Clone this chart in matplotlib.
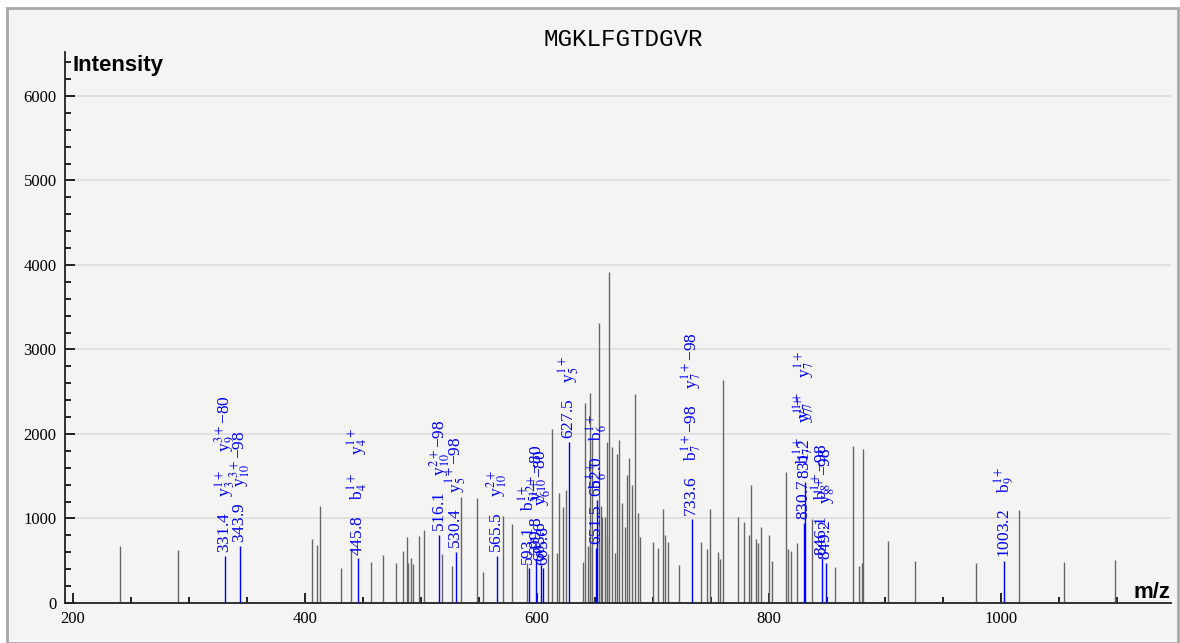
"""
Annotated MS/MS spectrum for MGKLFGTDGVR
"""

import matplotlib
matplotlib.use('Agg')
import matplotlib.pyplot as plt
from matplotlib.patches import Rectangle
from matplotlib.ticker import MultipleLocator

COLORS = {
    'bg': '#f4f4f4',
    'frame': '#a8a8a8',
    'peak': '#666666',
    'ann': '#0000ff',
    'grid': '#dcdcdc',
    'axis': '#222222',
}

plt.rcParams['mathtext.fontset'] = 'stix'
plt.rcParams['font.family'] = 'Liberation Serif'

PEPTIDE = 'MGKLFGTDGVR'

# unannotated peaks (m/z, intensity)
peak_mz = [
    240.8, 290.8, 406.1, 410.3, 413.2, 431.3, 439.7, 457.2, 467.8, 479.0,
    485.0, 487.9, 489.3, 491.9, 493.6, 498.5, 502.6, 518.1, 526.7, 534.5,
    548.5, 553.4, 571.2, 578.4, 591.4, 610.0, 613.0, 617.2, 619.5, 622.4,
    625.0, 639.7, 641.5, 644.5, 645.7, 646.1, 648.0, 653.7, 655.4, 656.6,
    658.9, 660.3, 660.9, 662.6, 665.2, 667.5, 669.0, 671.0, 673.8, 676.1,
    677.6, 679.8, 681.9, 684.7, 687.1, 689.0, 700.0, 704.3, 708.6, 710.6,
    712.9, 722.9, 741.6, 746.6, 749.7, 756.0, 758.3, 760.9, 773.4, 778.7,
    783.3, 784.7, 788.8, 790.5, 793.4, 800.3, 802.6, 815.0, 816.9, 819.2,
    824.1, 837.0, 856.9, 872.4, 878.0, 880.2, 881.0, 902.6, 926.1, 978.4,
    1016.0, 1054.8, 1098.5,
]
peak_int = [
    674, 627, 753, 686, 1147, 410, 635, 489, 568, 469,
    619, 777, 469, 536, 458, 797, 864, 580, 438, 1258,
    1246, 371, 1029, 935, 469, 576, 2055, 588, 1298, 1139,
    1337, 489, 2370, 674, 2481, 666, 1948, 3309, 1148, 1021,
    1014, 784, 1908, 3912, 1842, 588, 1759, 1928, 1187, 903,
    1514, 1712, 1396, 2469, 1061, 784, 725, 647, 1108, 804,
    725, 450, 725, 639, 1108, 600, 517, 2638, 1021, 955,
    804, 1396, 757, 706, 896, 804, 497, 1553, 639, 619,
    714, 994, 430, 1857, 438, 470, 1822, 730, 497, 470,
    1100, 485, 509,
]

# annotated peaks
ann_mz = [331.4, 343.9, 445.8, 516.1, 530.4, 565.5, 593.1, 599.8, 603.6,
          605.6, 627.5, 651.5, 652.0, 733.6, 830.7, 831.2, 846.1, 849.2,
          1003.2]
ann_int = [560, 678, 528, 804, 607, 560, 410, 520, 450,
           420, 1908, 650, 1220, 990, 950, 1430, 529, 477,
           497]
ann_labels = [
    ['331.4', r'y$_{3}^{1+}$', r'y$_{9}^{3+}$−80'],
    ['343.9', r'y$_{10}^{3+}$−98'],
    ['445.8', r'b$_{4}^{1+}$', r'y$_{4}^{1+}$'],
    ['516.1', r'y$_{10}^{2+}$−98'],
    ['530.4', r'y$_{5}^{1+}$−98'],
    ['565.5', r'y$_{10}^{2+}$'],
    ['593.1', r'b$_{5}^{1+}$'],
    ['599.8', r'y$_{10}^{2+}$−80'],
    ['603.6', r'y$_{6}^{1+}$−80'],
    ['605.6'],
    ['627.5', r'y$_{5}^{1+}$'],
    ['651.5', r'b$_{6}^{1+}$'],
    ['652.0', r'b$_{6}^{1+}$'],
    ['733.6', r'b$_{7}^{1+}$−98', r'y$_{7}^{1+}$−98'],
    ['830.7', r'b$_{7}^{1+}$', r'y$_{7}^{1+}$'],
    ['831.2', r'y$_{7}^{1+}$', r'y$_{7}^{1+}$'],
    ['846.1', r'b$_{8}^{1+}$−98'],
    ['849.2', r'y$_{8}^{1+}$−98'],
    ['1003.2', r'b$_{9}^{1+}$'],
]

W, H = 1180, 643
fig = plt.figure(figsize=(W / 100, H / 100), dpi=100, facecolor='white')
frame = Rectangle((7 / W, 0), (W - 9) / W, (H - 8) / H,
                  transform=fig.transFigure, facecolor=COLORS['bg'],
                  edgecolor=COLORS['frame'], lw=2, zorder=-10)
fig.add_artist(frame)

ax = fig.add_axes([65 / W, 1 - 603 / H, (1171 - 65) / W, (603 - 52) / H])
ax.set_zorder(1)
ax.set_facecolor(COLORS['bg'])
ax.set_xlim(193.4, 1146.8)
ax.set_ylim(0, 6520)

ax.vlines(peak_mz, 0, peak_int, color=COLORS['peak'], lw=1.0, zorder=2)
ax.vlines(ann_mz, 0, ann_int, color=COLORS['ann'], lw=1.0, zorder=3)

for mz, inten, labels in zip(ann_mz, ann_int, ann_labels):
    ax.annotate('    '.join(labels), xy=(mz, inten), xytext=(0, 2),
                textcoords='offset points', rotation=90, ha='center',
                va='bottom', color=COLORS['ann'], fontsize=12.5, zorder=4)

# axes styling
for side in ['top', 'right']:
    ax.spines[side].set_visible(False)
for side in ['left', 'bottom']:
    ax.spines[side].set_color(COLORS['axis'])
    ax.spines[side].set_linewidth(1.3)

ax.xaxis.set_major_locator(MultipleLocator(200))
ax.xaxis.set_minor_locator(MultipleLocator(50))
ax.yaxis.set_major_locator(MultipleLocator(1000))
ax.yaxis.set_minor_locator(MultipleLocator(200))
ax.tick_params(which='major', direction='in', length=7.5, width=1.2,
               labelsize=12, pad=6)
ax.tick_params(which='minor', direction='in', length=4.3, width=1.2)
ax.yaxis.grid(True, color=COLORS['grid'], lw=1.2, zorder=0)
ax.set_axisbelow(True)

fig.text(623 / W, 1 - 40 / H, PEPTIDE, ha='center', va='center',
         family='Liberation Mono', fontsize=17.5)
fig.text(72 / W, 1 - 65 / H, 'Intensity', ha='left', va='center',
         family='Liberation Sans', fontweight='bold', fontsize=16)
fig.text(1170 / W, 1 - 592 / H, 'm/z', ha='right', va='center',
         family='Liberation Sans', fontweight='bold', fontsize=16)

plt.savefig('out.png', dpi=100, facecolor='white')
print("[OK] Generated out.png")
plt.close()
